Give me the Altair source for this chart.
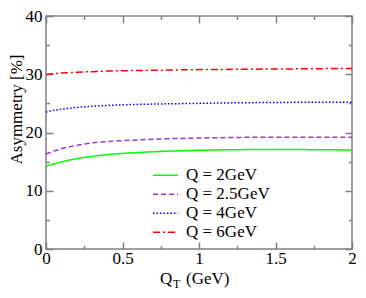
import altair as alt
import pandas as pd

# ---- data ----
qt = [0.0, 0.05, 0.1, 0.2, 0.3, 0.4, 0.5, 0.75, 1.0, 1.25, 1.5, 1.75, 2.0]
series_names = ["Q = 2GeV", "Q = 2.5GeV", "Q = 4GeV", "Q = 6GeV"]
asym_q2 = [14.2, 14.6, 14.95, 15.5, 15.9, 16.2, 16.4, 16.75, 16.95, 17.05, 17.1, 17.05, 17.0]
asym_q25 = [16.3, 16.8, 17.2, 17.8, 18.2, 18.45, 18.6, 18.9, 19.05, 19.15, 19.2, 19.2, 19.2]
asym_q4 = [23.5, 23.8, 24.0, 24.3, 24.5, 24.65, 24.75, 24.9, 25.0, 25.1, 25.15, 25.2, 25.2]
asym_q6 = [29.95, 30.1, 30.2, 30.35, 30.45, 30.55, 30.6, 30.7, 30.8, 30.85, 30.9, 30.95, 31.0]
x_ticks = [0, 0.25, 0.5, 0.75, 1, 1.25, 1.5, 1.75, 2]
y_ticks = [0, 5, 10, 15, 20, 25, 30, 35, 40]
y_title = "Asymmetry [%]"
x_title_parts = ["Q", "T", "(GeV)"]

colors = ["#00ff00", "#9933dd", "#0000ff", "#ff0000"]
dashes = [[1, 0], [5, 3], [1.5, 2], [7, 3, 2, 3]]

rows = []
for name, vals in zip(series_names, [asym_q2, asym_q25, asym_q4, asym_q6]):
    for xv, yv in zip(qt, vals):
        rows.append({"series": name, "qt": xv, "asym": yv})
df = pd.DataFrame(rows)

W, H = 306, 233
FONT = "Liberation Serif"
GRAY = "#808080"
major_x = {"condition": {"test": "datum.value % 0.5 === 0", "value": 7}, "value": 3.5}
major_y = {"condition": {"test": "datum.value % 10 === 0", "value": 7}, "value": 3.5}

xs = alt.Scale(domain=[0, 2], nice=False, zero=False)
ys = alt.Scale(domain=[0, 40], nice=False, zero=False)

base = alt.Chart(df)

lines = base.mark_line(strokeWidth=1.5, interpolate="monotone").encode(
    x=alt.X("qt:Q", scale=xs, axis=alt.Axis(
        orient="bottom", values=x_ticks, format="~g", ticks=False, domain=False, grid=False,
        labelExpr="datum.value % 0.5 === 0 ? datum.label : ''", labelFont=FONT, labelFontSize=17,
        labelColor="black", labelPadding=1, labelFlush=False, labelOverlap=False, labelBound=False,
        title=None)),
    y=alt.Y("asym:Q", scale=ys, axis=alt.Axis(
        orient="left", values=y_ticks, format="~g", ticks=False, domain=False, grid=False,
        labelExpr="datum.value % 10 === 0 ? datum.label : ''", labelFont=FONT, labelFontSize=17,
        labelColor="black", labelPadding=4, labelFlush=False, labelOverlap=False, labelBound=False,
        title=y_title, titleFont=FONT, titleFontSize=17, titleFontWeight="normal", titleColor="black",
        titleAngle=270, titleBaseline="alphabetic", titleAlign="center", titleX=-25, titleY=93)),
    color=alt.Color("series:N", sort=series_names,
                    scale=alt.Scale(domain=series_names, range=colors),
                    legend=alt.Legend(orient="none", legendX=106, legendY=150, title=None,
                                      symbolType="stroke", symbolSize=625, symbolStrokeWidth=1.5,
                                      labelFont=FONT, labelFontSize=17, labelColor="black",
                                      labelOffset=7, clipHeight=18.7, rowPadding=0, padding=0)),
    strokeDash=alt.StrokeDash("series:N", sort=series_names,
                              scale=alt.Scale(domain=series_names, range=dashes), legend=None),
)

# inward ticks on bottom and left edges
ticks_a = base.mark_line(opacity=0).encode(
    x=alt.X("qt:Q", scale=xs, axis=alt.Axis(
        orient="top", offset=-H, values=x_ticks, labels=False, domain=False, grid=False,
        tickSize=major_x, tickColor=GRAY, tickWidth=1.5, title=None)),
    y=alt.Y("asym:Q", scale=ys, axis=alt.Axis(
        orient="right", offset=-W, values=y_ticks, labels=False, domain=False, grid=False,
        tickSize=major_y, tickColor=GRAY, tickWidth=1.5, title=None)),
)
# inward ticks on top and right edges
ticks_b = base.mark_line(opacity=0).encode(
    x=alt.X("qt:Q", scale=xs, axis=alt.Axis(
        orient="bottom", offset=-H, values=x_ticks, labels=False, domain=False, grid=False,
        tickSize=major_x, tickColor=GRAY, tickWidth=1.5, title=None)),
    y=alt.Y("asym:Q", scale=ys, axis=alt.Axis(
        orient="left", offset=-W, values=y_ticks, labels=False, domain=False, grid=False,
        tickSize=major_y, tickColor=GRAY, tickWidth=1.5, title=None)),
)

tdf = pd.DataFrame({"t": x_title_parts})
t_q = alt.Chart(tdf.iloc[[0]]).mark_text(font=FONT, fontSize=17, align="left", baseline="alphabetic",
                                         color="black").encode(
    text="t:N", x=alt.value(114), y=alt.value(268))
t_t = alt.Chart(tdf.iloc[[1]]).mark_text(font=FONT, fontSize=12, align="left", baseline="alphabetic",
                                         color="black").encode(
    text="t:N", x=alt.value(127), y=alt.value(272))
t_gev = alt.Chart(tdf.iloc[[2]]).mark_text(font=FONT, fontSize=17, align="left", baseline="alphabetic",
                                           color="black").encode(
    text="t:N", x=alt.value(140), y=alt.value(268))

chart = alt.layer(lines, ticks_a, ticks_b, t_q, t_t, t_gev).resolve_axis(
    x="independent", y="independent"
).properties(
    width=W, height=H,
    autosize=alt.AutoSizeParams(type="none"),
    padding={"left": 38, "top": 8, "right": 6, "bottom": 41},
).configure(
    background="white",
    font=FONT,
    view=alt.ViewConfig(stroke=GRAY, strokeWidth=1.5),
)

chart.save("out.html", embed_options={"renderer": "svg", "actions": False})
